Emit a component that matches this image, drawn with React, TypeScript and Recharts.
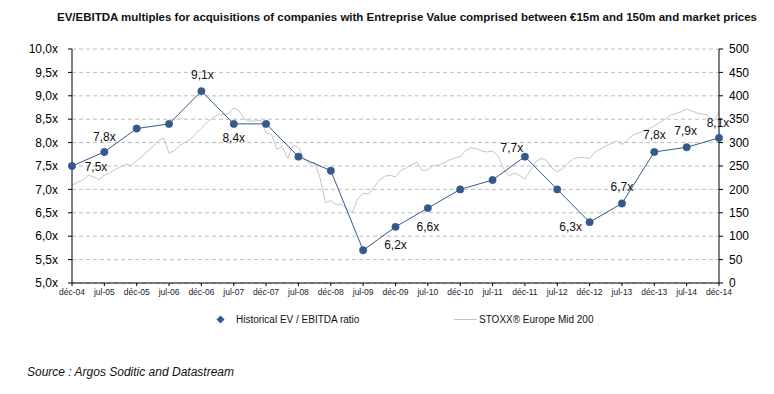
import { LineChart, Line, XAxis, YAxis, CartesianGrid, LabelList } from 'recharts'

// half-year points, déc-04 .. déc-14
const periods = [
  'déc-04', 'jul-05', 'déc-05', 'jul-06', 'déc-06', 'jul-07', 'déc-07',
  'jul-08', 'déc-08', 'jul-09', 'déc-09', 'jul-10', 'déc-10', 'jul-11',
  'déc-11', 'jul-12', 'déc-12', 'jul-13', 'déc-13', 'jul-14', 'déc-14',
]
const evEbitda = [
  7.5, 7.8, 8.3, 8.4, 9.1, 8.4, 8.4, 7.7, 7.4, 5.7, 6.2,
  6.6, 7.0, 7.2, 7.7, 7.0, 6.3, 6.7, 7.8, 7.9, 8.1,
]
const labelled = [
  true, true, false, false, true, true, false, false, false, false, true,
  true, false, false, true, false, true, true, true, true, true,
]
// STOXX Europe Mid 200, monthly from déc-04
const stoxxMonthly = [
  209, 215, 220, 230, 227, 221, 230, 236, 242, 248, 254, 251,
  262, 270, 282, 292, 304, 310, 277, 283, 294, 301, 307, 320,
  330, 343, 352, 359, 360, 362, 374, 368, 350, 346, 346, 348,
  320, 318, 285, 292, 266, 295, 290, 268, 255, 258, 225, 172,
  176, 167, 168, 158, 150, 180, 192, 190, 204, 220, 228, 230,
  227, 240, 246, 253, 258, 240, 242, 251, 252, 257, 263, 267,
  270, 283, 289, 287, 282, 280, 282, 272, 245, 228, 235, 230,
  222, 240, 259, 266, 262, 246, 238, 244, 256, 265, 268, 268,
  266, 280, 286, 293, 298, 304, 296, 305, 316, 320, 324, 330,
  336, 343, 350, 359, 362, 366, 372, 367, 363, 361, 358, 346,
  364,
]
const leftTicks = [5, 5.5, 6, 6.5, 7, 7.5, 8, 8.5, 9, 9.5, 10]
const rightTicks = [0, 50, 100, 150, 200, 250, 300, 350, 400, 450, 500]

const ratioData = evEbitda.map((v, i) => ({
  m: i * 6,
  v,
  label: labelled[i] ? v.toFixed(1).replace('.', ',') + 'x' : '',
}))
const stoxxData = stoxxMonthly.map((s, i) => ({ m: i, s }))

const BLUE = '#36598C'
const FONT = 'Arial, "Liberation Sans", sans-serif'
const TITLE =
  'EV/EBITDA multiples for acquisitions of companies with Entreprise Value comprised between €15m and 150m and market prices'

const labelOffset: Record<number, [number, number]> = {
  0: [24, 1],
  1: [0, -15],
  4: [1, -16],
  5: [0, 14],
  10: [0, 18],
  11: [0, 19],
  14: [-13, -9],
  16: [-19, 5],
  17: [0, -16],
  18: [0, -17],
  19: [-1, -16],
  20: [-1, -15],
}

function PointLabel(props: any) {
  const { x, y, index, value } = props
  if (!value) return null
  const [dx, dy] = labelOffset[index] ?? [0, -15]
  return (
    <text
      x={x + dx}
      y={y + dy}
      textAnchor="middle"
      dominantBaseline="central"
      fontSize={12}
      fontFamily={FONT}
      fill="#111"
    >
      {value}
    </text>
  )
}

export default function App() {
  return (
    <div
      style={{
        position: 'absolute',
        left: 0,
        top: 0,
        width: 774,
        height: 394,
        background: '#fff',
        fontFamily: FONT,
      }}
    >
      <svg width={774} height={30} style={{ position: 'absolute', left: 0, top: 0 }}>
        <text
          x={57}
          y={21}
          textLength={700}
          lengthAdjust="spacingAndGlyphs"
          fontFamily={FONT}
          fontWeight="bold"
          fontSize={11}
          fill="#111"
        >
          {TITLE}
        </text>
      </svg>

      <div style={{ position: 'absolute', left: 0, top: 0 }}>
        <LineChart width={774} height={300} margin={{ top: 49, right: 8, left: 0, bottom: 0 }}>
          <CartesianGrid yAxisId="left" vertical={false} stroke="#BDBDBD" strokeDasharray="4 3" />
          <XAxis
            type="number"
            dataKey="m"
            domain={[0, 120]}
            ticks={periods.map((_, i) => i * 6)}
            tickFormatter={(m: number) => periods[m / 6]}
            height={17}
            interval={0}
            stroke="#000"
            tickSize={3}
            tickMargin={3}
            tick={{ fontSize: 8.5, fill: '#1a1a2e', fontFamily: FONT }}
            allowDuplicatedCategory={false}
          />
          <YAxis
            yAxisId="left"
            domain={[5, 10]}
            ticks={leftTicks}
            tickFormatter={(v: number) => v.toFixed(1).replace('.', ',') + 'x'}
            width={72}
            stroke="#000"
            tickSize={4}
            tickMargin={10}
            tick={{ fontSize: 12, fill: '#000', fontFamily: FONT }}
          />
          <YAxis
            yAxisId="right"
            orientation="right"
            domain={[0, 500]}
            ticks={rightTicks}
            width={47}
            stroke="#000"
            tickSize={4}
            tickMargin={6}
            tick={{ fontSize: 12, fill: '#000', fontFamily: FONT, textAnchor: 'start' }}
          />
          <Line
            yAxisId="right"
            data={stoxxData}
            dataKey="s"
            stroke="#C6C6C6"
            strokeWidth={1}
            dot={false}
            isAnimationActive={false}
          />
          <Line
            yAxisId="left"
            data={ratioData}
            dataKey="v"
            stroke={BLUE}
            strokeWidth={1}
            dot={{ r: 3.7, fill: BLUE, stroke: BLUE, strokeWidth: 0.5 }}
            isAnimationActive={false}
          >
            <LabelList dataKey="label" content={<PointLabel />} />
          </Line>
        </LineChart>
      </div>

      <div style={{ position: 'absolute', left: 216, top: 314, display: 'flex', alignItems: 'center', fontSize: 10, color: '#111' }}>
        <svg width={9} height={9} style={{ marginRight: 11 }}>
          <polygon points="4.5,0.5 8.5,4.5 4.5,8.5 0.5,4.5" fill={BLUE} />
        </svg>
        <span>Historical EV / EBITDA ratio</span>
      </div>
      <div style={{ position: 'absolute', left: 454, top: 314, display: 'flex', alignItems: 'center', fontSize: 10, color: '#111' }}>
        <svg width={23} height={9} style={{ marginRight: 2 }}>
          <line x1={0} y1={4.5} x2={23} y2={4.5} stroke="#C6C6C6" strokeWidth={1} />
        </svg>
        <span>STOXX® Europe Mid 200</span>
      </div>

      <div
        style={{
          position: 'absolute',
          left: 27,
          top: 365,
          fontSize: 12,
          fontStyle: 'italic',
          color: '#111',
        }}
      >
        Source : Argos Soditic and Datastream
      </div>
    </div>
  )
}
